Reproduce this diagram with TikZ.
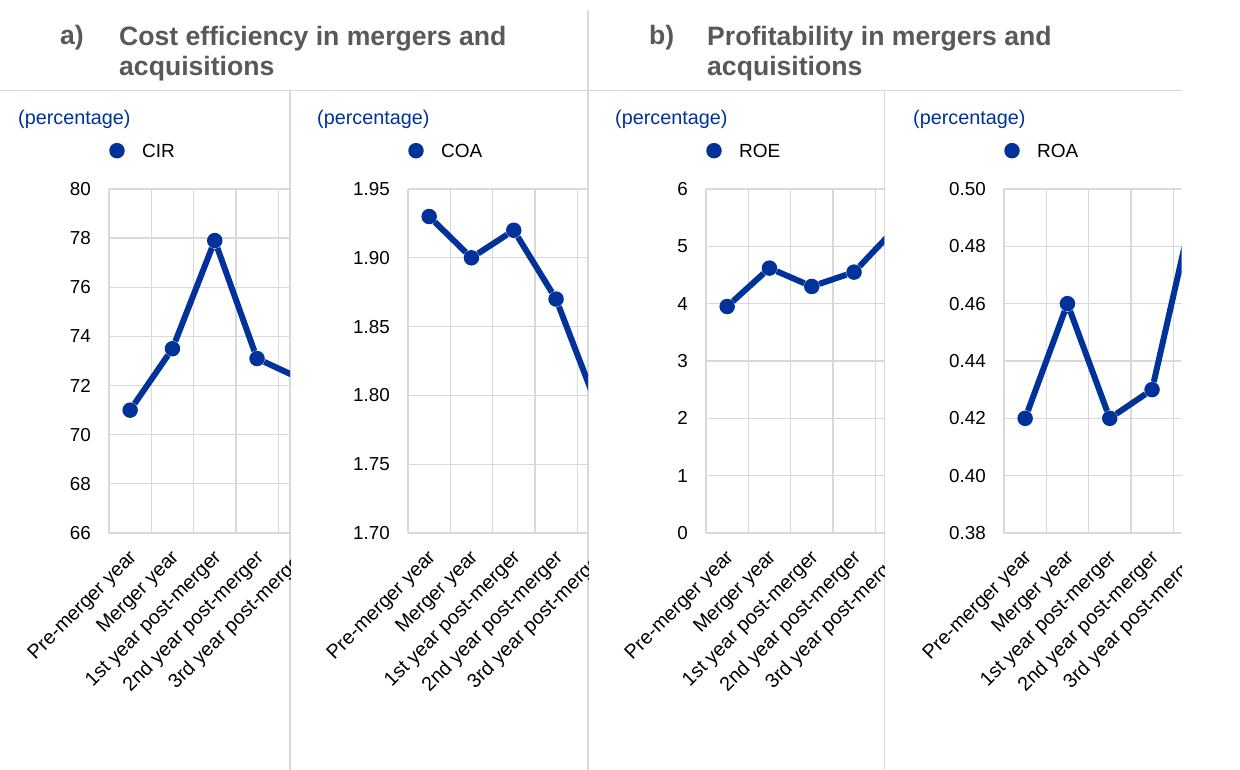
\documentclass[tikz,border=0pt]{standalone}
\usepackage{fontspec}
\setmainfont{Liberation Sans}
\definecolor{ecbblue}{HTML}{003299}
\definecolor{titlegray}{HTML}{595959}
\definecolor{gridgray}{HTML}{D9D9D9}
\tikzset{
  gridline/.style={gridgray, line width=1.3pt},
  panelline/.style={gridgray, line width=1.5pt},
  dataline/.style={ecbblue, line width=6pt},
  datadot/.style={circle, fill=ecbblue, inner sep=0pt, minimum size=15.5pt},
  ticklabel/.style={anchor=east, inner sep=0pt, font=\fontsize{18.8}{22}\selectfont},
  catlabel/.style={anchor=east, rotate=45, inner sep=0pt, font=\fontsize{19.8}{23}\selectfont},
  unitlabel/.style={anchor=base west, inner sep=0pt, text=ecbblue, font=\fontsize{19.8}{23}\selectfont},
  legendtext/.style={anchor=base west, inner sep=0pt, font=\fontsize{19}{22}\selectfont},
  titletext/.style={inner sep=0pt, text=titlegray, font=\fontsize{26.6}{30}\selectfont\bfseries},
}
\begin{document}
\begin{tikzpicture}[x=1pt,y=1pt]
			\useasboundingbox (0,0) rectangle (1240,770);
			\fill[white] (0,0) rectangle (1240,770);
			
			% titles
			\node[titletext, anchor=base west] (atag) at (60,725) {a)};
			\node[titletext, anchor=north west, align=left] (atitle) at (119,744) {Cost efficiency in mergers and\\acquisitions};
			\node[titletext, anchor=base west] (btag) at (649,725) {b)};
			\node[titletext, anchor=north west, align=left] (btitle) at (707,744) {Profitability in mergers and\\acquisitions};
			
			% frame lines
			\draw[panelline] (0,679.3) -- (1182,679.3);
			\draw[panelline] (588,0) -- (588,760);
			\draw[panelline] (290,0) -- (290,679.3);
			\draw[panelline] (884.4,0) -- (884.4,679.3);
			
			% CIR
			\begin{scope}[shift={(109,237)}, x=42.3pt, y=24.5714pt]
			\node[unitlabel] (cirunit) at (-91pt,408.5pt) {(percentage)};
			\node[datadot] (cirkey) at (8pt,382.3pt) {};
			\node[legendtext] (cirname) at (33pt,375.7pt) {CIR};
			\foreach \v/\lab [count=\i] in {0/66,2/68,4/70,6/72,8/74,10/76,12/78,14/80}
				\node[ticklabel] (cirtick\i) at ([xshift=-18pt]0,\v) {\lab};
			\begin{scope}
				\clip (-93pt,-260pt) rectangle (181pt,360pt);
				\foreach \v in {0,2,...,14} \draw[gridline] (0,\v) -- (5,\v);
				\foreach \k in {0,...,5} \draw[gridline] (\k,0) -- (\k,14);
				\node[datadot] (cir1) at (0.5,5) {};
				\node[datadot] (cir2) at (1.5,7.5) {};
				\node[datadot] (cir3) at (2.5,11.9) {};
				\node[datadot] (cir4) at (3.5,7.1) {};
				\node[datadot] (cir5) at (4.5,6.3) {};
				\draw[dataline] (cir1) -- (cir2) -- (cir3) -- (cir4) -- (cir5);
				\foreach \k/\txt in {0/Pre-merger year,1/Merger year,2/1st year post-merger,3/2nd year post-merger,4/3rd year post-merger}
					\node[catlabel] (circat\k) at ([xshift=4pt,yshift=-22pt]\k+0.5,0) {\txt};
			\end{scope}
			\end{scope}
			
			% COA
			\begin{scope}[shift={(408,237)}, x=42.3pt, y=1376pt]
			\node[unitlabel] (coaunit) at (-91pt,408.5pt) {(percentage)};
			\node[datadot] (coakey) at (8pt,382.3pt) {};
			\node[legendtext] (coaname) at (33pt,375.7pt) {COA};
			\foreach \v/\lab [count=\i] in {0/1.70,0.05/1.75,0.1/1.80,0.15/1.85,0.2/1.90,0.25/1.95}
				\node[ticklabel] (coatick\i) at ([xshift=-18pt]0,\v) {\lab};
			\begin{scope}
				\clip (-93pt,-260pt) rectangle (180pt,360pt);
				\foreach \v in {0,0.05,0.1,0.15,0.2,0.25} \draw[gridline] (0,\v) -- (5,\v);
				\foreach \k in {0,...,5} \draw[gridline] (\k,0) -- (\k,0.25);
				\node[datadot] (coa1) at (0.5,0.23) {};
				\node[datadot] (coa2) at (1.5,0.20) {};
				\node[datadot] (coa3) at (2.5,0.22) {};
				\node[datadot] (coa4) at (3.5,0.17) {};
				\node[datadot] (coa5) at (4.5,0.09) {};
				\draw[dataline] (coa1) -- (coa2) -- (coa3) -- (coa4) -- (coa5);
				\foreach \k/\txt in {0/Pre-merger year,1/Merger year,2/1st year post-merger,3/2nd year post-merger,4/3rd year post-merger}
					\node[catlabel] (coacat\k) at ([xshift=4pt,yshift=-22pt]\k+0.5,0) {\txt};
			\end{scope}
			\end{scope}
			
			% ROE
			\begin{scope}[shift={(706,237)}, x=42.3pt, y=57.3333pt]
			\node[unitlabel] (roeunit) at (-91pt,408.5pt) {(percentage)};
			\node[datadot] (roekey) at (8pt,382.3pt) {};
			\node[legendtext] (roename) at (33pt,375.7pt) {ROE};
			\foreach \v [count=\i] in {0,...,6}
				\node[ticklabel] (roetick\i) at ([xshift=-18pt]0,\v) {\v};
			\begin{scope}
				\clip (-93pt,-260pt) rectangle (178.4pt,360pt);
				\foreach \v in {0,...,6} \draw[gridline] (0,\v) -- (5,\v);
				\foreach \k in {0,...,5} \draw[gridline] (\k,0) -- (\k,6);
				\node[datadot] (roe1) at (0.5,3.95) {};
				\node[datadot] (roe2) at (1.5,4.62) {};
				\node[datadot] (roe3) at (2.5,4.30) {};
				\node[datadot] (roe4) at (3.5,4.55) {};
				\node[datadot] (roe5) at (4.5,5.33) {};
				\draw[dataline] (roe1) -- (roe2) -- (roe3) -- (roe4) -- (roe5);
				\foreach \k/\txt in {0/Pre-merger year,1/Merger year,2/1st year post-merger,3/2nd year post-merger,4/3rd year post-merger}
					\node[catlabel] (roecat\k) at ([xshift=4pt,yshift=-22pt]\k+0.5,0) {\txt};
			\end{scope}
			\end{scope}
			
			% ROA
			\begin{scope}[shift={(1004,237)}, x=42.3pt, y=2866.67pt]
			\node[unitlabel] (roaunit) at (-91pt,408.5pt) {(percentage)};
			\node[datadot] (roakey) at (8pt,382.3pt) {};
			\node[legendtext] (roaname) at (33pt,375.7pt) {ROA};
			\foreach \v/\lab [count=\i] in {0/0.38,0.02/0.40,0.04/0.42,0.06/0.44,0.08/0.46,0.1/0.48,0.12/0.50}
				\node[ticklabel] (roatick\i) at ([xshift=-18pt]0,\v) {\lab};
			\begin{scope}
				\clip (-93pt,-260pt) rectangle (177.6pt,360pt);
				\foreach \v in {0,0.02,0.04,0.06,0.08,0.1,0.12} \draw[gridline] (0,\v) -- (5,\v);
				\foreach \k in {0,...,5} \draw[gridline] (\k,0) -- (\k,0.12);
				\node[datadot] (roa1) at (0.5,0.04) {};
				\node[datadot] (roa2) at (1.5,0.08) {};
				\node[datadot] (roa3) at (2.5,0.04) {};
				\node[datadot] (roa4) at (3.5,0.05) {};
				\node[datadot] (roa5) at (4.5,0.115) {};
				\draw[dataline] (roa1) -- (roa2) -- (roa3) -- (roa4) -- (roa5);
				\foreach \k/\txt in {0/Pre-merger year,1/Merger year,2/1st year post-merger,3/2nd year post-merger,4/3rd year post-merger}
					\node[catlabel] (roacat\k) at ([xshift=4pt,yshift=-22pt]\k+0.5,0) {\txt};
			\end{scope}
			\end{scope}
			\end{tikzpicture}
\end{document}
